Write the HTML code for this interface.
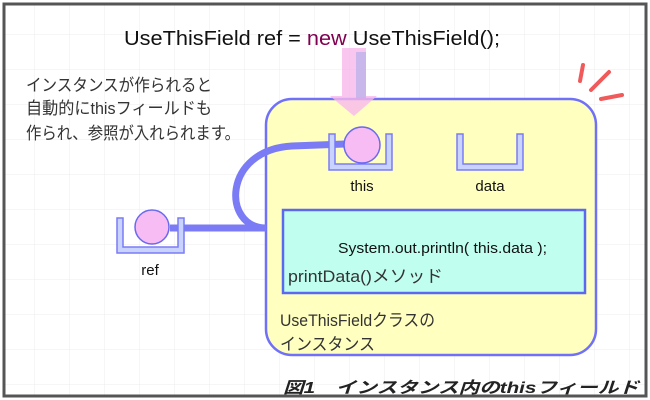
<!DOCTYPE html>
<html><head><meta charset="utf-8"><style>
html,body{margin:0;padding:0;background:#fff;}
svg{display:block;}
</style></head><body>
<svg width="650" height="400" viewBox="0 0 650 400" xmlns="http://www.w3.org/2000/svg">
<defs>
<pattern id="g" width="35" height="35" patternUnits="userSpaceOnUse" x="0" y="0">
<path d="M35 0V35M0 35H35" stroke="#ececec" stroke-width="1" fill="none"/>
</pattern>
</defs>
<rect x="0" y="0" width="650" height="400" fill="#fff"/>
<rect x="4" y="4" width="642" height="392" fill="url(#g)"/>
<rect x="4" y="4" width="642" height="392" fill="none" stroke="#555" stroke-width="3"/>

<text x="124" y="45" font-family="Liberation Sans, sans-serif" font-size="20" fill="#111" textLength="376" lengthAdjust="spacingAndGlyphs">UseThisField ref = <tspan fill="#800050">new</tspan> UseThisField();</text>

<g font-family="Liberation Sans, 'Noto Sans CJK JP', sans-serif" font-size="17" fill="#333">
<text x="26" y="91" textLength="186" lengthAdjust="spacingAndGlyphs">インスタンスが作られると</text>
<text x="26" y="114" textLength="186" lengthAdjust="spacingAndGlyphs">自動的にthisフィールドも</text>
<text x="26" y="139" textLength="214" lengthAdjust="spacingAndGlyphs">作られ、参照が入れられます。</text>
</g>

<g stroke="#f05a5a" stroke-width="4" stroke-linecap="round">
<line x1="583" y1="65" x2="580" y2="81"/>
<line x1="609" y1="72" x2="591" y2="90"/>
<line x1="622" y1="95" x2="601" y2="99"/>
</g>

<rect x="266" y="99" width="330" height="256" rx="26" fill="#ffffc0" stroke="#7070f8" stroke-width="2.5"/>

<path d="M342 48H366V96H377L354 116L330 96H342Z" fill="#f8b8ec" opacity="0.8"/>
<rect x="356" y="52" width="10" height="46" fill="#9aa8e8" opacity="0.5"/>

<rect x="283" y="210" width="302" height="83" fill="#c0fff0" stroke="#5a6af0" stroke-width="2.5"/>

<path d="M345 144 L292 146 C222 150 222 228 266 228" fill="none" stroke="#7b7bf5" stroke-width="7"/>
<line x1="170" y1="228" x2="266" y2="228" stroke="#7b7bf5" stroke-width="7"/>

<g fill="#c8d4ff" stroke="#7b7bf5" stroke-width="1.5">
<path d="M329 134h6v30h51v-30h6v36h-63z"/>
<path d="M457 134h6v30h54v-30h6v36h-66z"/>
<path d="M117 218h6v29h55v-29h6v35h-67z"/>
</g>
<circle cx="362" cy="145" r="18" fill="#f8bcf4" stroke="#6a6af0" stroke-width="1.5"/>
<circle cx="152" cy="227" r="17" fill="#f8bcf4" stroke="#6a6af0" stroke-width="1.5"/>

<g font-family="Liberation Sans, sans-serif" font-size="15" fill="#111" text-anchor="middle">
<text x="362" y="191">this</text>
<text x="490" y="191">data</text>
<text x="150" y="275">ref</text>
</g>
<text x="338" y="253" font-family="Liberation Sans, sans-serif" font-size="15" fill="#111" textLength="209" lengthAdjust="spacingAndGlyphs">System.out.println( this.data );</text>

<g font-family="'Liberation Sans Narrow', 'Liberation Sans', 'Noto Sans CJK JP', sans-serif" font-size="17" fill="#333">
<text x="288" y="282" textLength="155" lengthAdjust="spacingAndGlyphs">printData()メソッド</text>
<text x="280" y="326" textLength="155" lengthAdjust="spacingAndGlyphs">UseThisFieldクラスの</text>
<text x="280" y="350" textLength="95" lengthAdjust="spacingAndGlyphs">インスタンス</text>
</g>

<text x="283" y="393" font-family="Liberation Sans, 'Noto Sans CJK JP', sans-serif" font-size="16" font-style="italic" font-weight="bold" fill="#222" textLength="356" lengthAdjust="spacingAndGlyphs">図1　インスタンス内のthisフィールド</text>
</svg>
</body></html>
